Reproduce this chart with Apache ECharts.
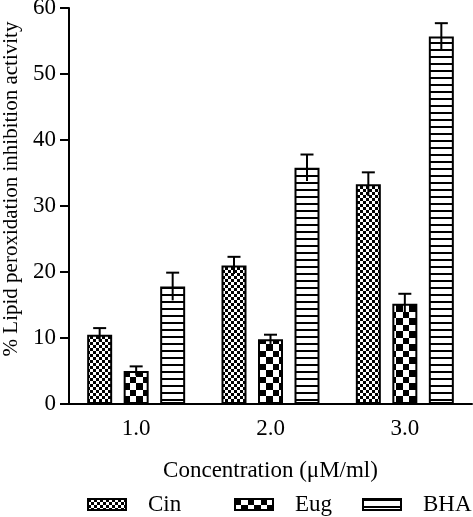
<!DOCTYPE html>
<html>
<head>
<meta charset="utf-8">
<script src="https://cdn.jsdelivr.net/npm/echarts@6/dist/echarts.min.js"></script>
<style>html,body{margin:0;padding:0;background:#fff}#c{width:473px;height:517px}</style>
</head>
<body>
<div id="c"></div>
<script>
const categories = ['1.0', '2.0', '3.0'];
const seriesNames = ['Cin', 'Eug', 'BHA'];
const cinValues = [10.5, 21.0, 33.3];
const eugValues = [5.0, 9.8, 15.2];
const bhaValues = [17.8, 35.8, 55.7];
const cinErrors = [1.0, 1.3, 1.8];
const eugErrors = [0.7, 0.7, 1.5];
const bhaErrors = [2.1, 2.0, 2.0];
const yTicks = [0, 10, 20, 30, 40, 50, 60];

function makePattern(w, h, draw) {
  const c = document.createElement('canvas');
  c.width = w; c.height = h;
  const g = c.getContext('2d');
  g.fillStyle = '#fff'; g.fillRect(0, 0, w, h);
  g.fillStyle = '#000';
  draw(g);
  return { image: c, repeat: 'repeat' };
}
const cinPattern = makePattern(6, 6, g => { g.fillRect(0, 0, 3, 3); g.fillRect(3, 3, 3, 3); });
const eugPattern = makePattern(13, 13, g => { g.fillRect(0, 0, 6, 6); g.fillRect(6, 6, 7, 7); });
const bhaPattern = makePattern(4, 7, g => { g.fillRect(0, 0, 4, 2); });

const FONT = 'Liberation Serif';
const BAR_W = 25, BAR_GAP = 0.46;
const step = BAR_W * (1 + BAR_GAP);

function barSeries(name, values, pattern) {
  return {
    name: name, type: 'bar', data: values, barWidth: BAR_W, barGap: (BAR_GAP * 100) + '%',
    itemStyle: { color: pattern, borderColor: '#000', borderWidth: 2 },
    emphasis: { disabled: true }, animation: false
  };
}
function errSeries(values, errs, offset) {
  return {
    type: 'custom', name: 'err', z: 5, animation: false, silent: true,
    data: values.map((v, i) => [i, v, errs[i]]),
    renderItem: function (params, api) {
      const x = api.coord([api.value(0), 0])[0] + offset;
      const top = api.coord([api.value(0), api.value(1) + api.value(2)])[1];
      const bot = api.coord([api.value(0), api.value(1) - api.value(2)])[1];
      const st = { stroke: '#000', lineWidth: 2 };
      return { type: 'group', children: [
        { type: 'line', shape: { x1: x, y1: bot, x2: x, y2: top }, style: st },
        { type: 'line', shape: { x1: x - 6.5, y1: top, x2: x + 6.5, y2: top }, style: st }
      ]};
    }
  };
}
function legendAt(name, left) {
  return {
    data: [name], left: left, top: 488, itemWidth: 38, itemHeight: 11,
    icon: 'rect', selectedMode: false,
    textStyle: { fontFamily: FONT, fontSize: 23, color: '#000', padding: [0, 0, 0, 17] }
  };
}

const chart = echarts.init(document.getElementById('c'), null, { renderer: 'canvas' });
chart.setOption({
  backgroundColor: '#fff',
  animation: false,
  grid: { left: 69, right: 1, top: 8, bottom: 113, containLabel: false, outerBoundsMode: 'none' },
  legend: [legendAt('Cin', 82), legendAt('Eug', 229), legendAt('BHA', 357)],
  xAxis: {
    type: 'category', data: categories,
    name: 'Concentration (\u03bcM/ml)', nameLocation: 'middle', nameGap: 55,
    nameTextStyle: { fontFamily: FONT, fontSize: 23, color: '#000' },
    axisLine: { lineStyle: { color: '#000', width: 2 } },
    axisTick: { alignWithLabel: true, length: 9, lineStyle: { color: '#000', width: 2 } },
    axisLabel: { fontFamily: FONT, fontSize: 23, color: '#000', margin: 13 }
  },
  yAxis: {
    type: 'value', min: yTicks[0], max: yTicks[yTicks.length - 1], interval: 10,
    name: '% Lipid peroxidation inhibition activity', nameLocation: 'middle', nameGap: 42,
    nameTextStyle: { fontFamily: FONT, fontSize: 21, color: '#000', padding: [0, 0, 0, 34] },
    axisLine: { show: true, lineStyle: { color: '#000', width: 2 } },
    axisTick: { show: true, length: 9, lineStyle: { color: '#000', width: 2 } },
    axisLabel: { fontFamily: FONT, fontSize: 23, color: '#000', margin: 13 },
    splitLine: { show: false }
  },
  series: [
    barSeries(seriesNames[0], cinValues, cinPattern),
    barSeries(seriesNames[1], eugValues, eugPattern),
    barSeries(seriesNames[2], bhaValues, bhaPattern),
    errSeries(cinValues, cinErrors, -step),
    errSeries(eugValues, eugErrors, 0),
    errSeries(bhaValues, bhaErrors, step)
  ]
});
</script>
</body>
</html>
